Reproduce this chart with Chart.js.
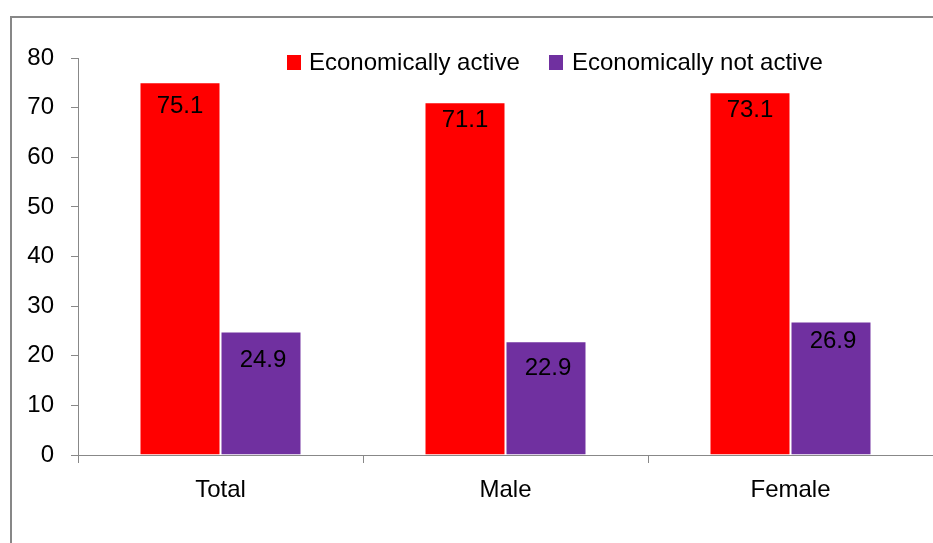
<!DOCTYPE html>
<html>
<head>
<meta charset="utf-8">
<script src="https://cdn.jsdelivr.net/npm/chart.js@4.4.1/dist/chart.umd.min.js"></script>
<style>
  html, body { margin: 0; padding: 0; background: #fff; overflow: hidden; }
  #wrap { position: relative; width: 933px; height: 543px; }
  #frame { position: absolute; left: 10px; top: 16px; width: 960px; height: 560px; border: 2px solid #878787; box-sizing: border-box; pointer-events: none; }
  canvas { position: absolute; left: 0; top: 0; }
</style>
</head>
<body>
<div id="wrap">
  <canvas id="c" width="933" height="543"></canvas>
  <div id="frame"></div>
</div>
<script>
const categories = ["Total", "Male", "Female"];
const activeValues = [75.1, 71.1, 73.1];
const notActiveValues = [24.9, 22.9, 26.9];
const seriesNames = ["Economically active", "Economically not active"];
const yTicks = [0, 10, 20, 30, 40, 50, 60, 70, 80];

const FONT = "'Liberation Sans', Arial, sans-serif";
const FS = 24;

// label baseline offsets below bar top (styling, per series / per point)
const labelOffsets = [[31, 25, 25], [36, 34, 26]];
const legendPos = [ {box: 287, text: 309}, {box: 549, text: 572} ];

const customLegend = {
  id: 'customLegend',
  afterDraw(chart) {
    const ctx = chart.ctx;
    ctx.save();
    ctx.font = FS + "px " + FONT;
    ctx.textBaseline = 'alphabetic';
    ctx.textAlign = 'left';
    chart.data.datasets.forEach((ds, i) => {
      const p = legendPos[i];
      ctx.fillStyle = ds.backgroundColor;
      ctx.fillRect(p.box, 55, 14, 15);
      ctx.fillStyle = '#000';
      ctx.fillText(ds.label, p.text, 70);
    });
    ctx.restore();
  }
};

const valueLabels = {
  id: 'valueLabels',
  afterDatasetsDraw(chart) {
    const ctx = chart.ctx;
    ctx.save();
    ctx.font = FS + "px " + FONT;
    ctx.textAlign = 'center';
    ctx.textBaseline = 'alphabetic';
    ctx.fillStyle = '#000';
    chart.data.datasets.forEach((ds, i) => {
      chart.getDatasetMeta(i).data.forEach((bar, j) => {
        ctx.fillText(ds.data[j].toFixed(1), bar.x + (i === 1 ? 2 : 0), bar.y + labelOffsets[i][j]);
      });
    });
    ctx.restore();
  }
};

new Chart(document.getElementById('c'), {
  type: 'bar',
  data: {
    labels: categories,
    datasets: [
      { label: seriesNames[0], data: activeValues, backgroundColor: '#FF0000', borderColor: 'rgba(255,255,255,0.25)', borderWidth: 1 },
      { label: seriesNames[1], data: notActiveValues, backgroundColor: '#7030A0', borderColor: 'rgba(255,255,255,0.25)', borderWidth: 1 }
    ]
  },
  options: {
    responsive: false,
    animation: false,
    events: [],
    layout: { padding: { top: 58, right: 0, bottom: 0, left: 0 } },
    plugins: { legend: { display: false }, tooltip: { enabled: false } },
    datasets: { bar: { categoryPercentage: 0.5684, barPercentage: 1.0 } },
    scales: {
      x: {
        grid: { offset: true, drawOnChartArea: false, drawTicks: true, tickLength: 8, color: '#888888', lineWidth: 1 },
        border: { display: true, color: '#888888', width: 1 },
        ticks: { color: '#000', font: { family: FONT, size: FS }, padding: 13, maxRotation: 0 },
        afterFit(scale) { scale.height = 88; }
      },
      y: {
        min: 0, max: 80,
        afterBuildTicks(scale) { scale.ticks = yTicks.map(v => ({ value: v })); },
        grid: { drawOnChartArea: false, drawTicks: true, tickLength: 7, color: '#888888', lineWidth: 1 },
        border: { display: true, color: '#888888', width: 1 },
        ticks: { color: '#000', font: { family: FONT, size: FS }, padding: 17 },
        afterFit(scale) { scale.width = 78; }
      }
    }
  },
  plugins: [customLegend, valueLabels]
});
</script>
</body>
</html>
